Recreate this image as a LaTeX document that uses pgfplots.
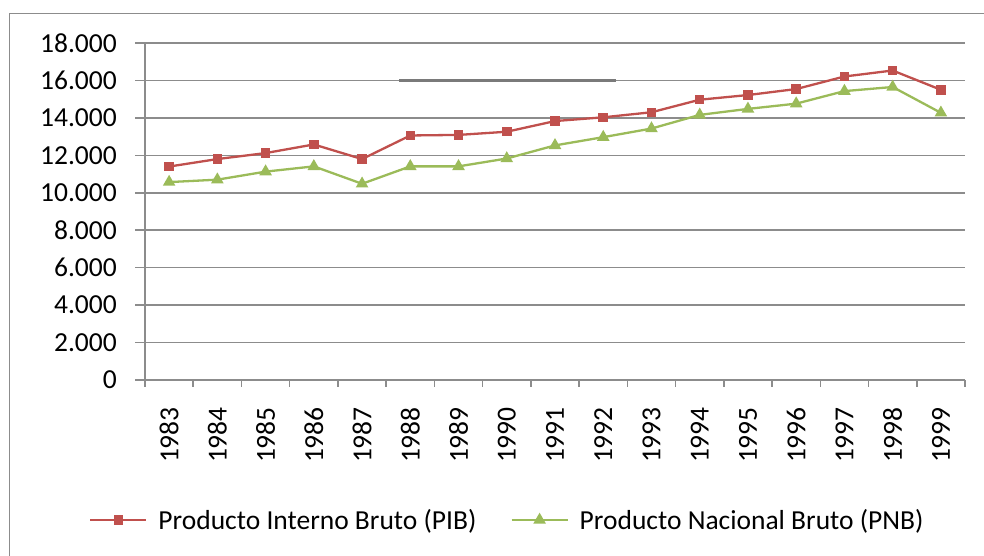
\documentclass[border=0pt]{standalone}
\usepackage{pgfplots}
\pgfplotsset{compat=1.18}
\usepackage{fontspec}
\setmainfont{Carlito}
\definecolor{pib}{HTML}{C0504D}
\definecolor{pnb}{HTML}{9BBB59}
\definecolor{gridc}{HTML}{8C8C8C}
\definecolor{darkseg}{HTML}{7A7A7A}
\begin{document}
\begin{tikzpicture}[x=1bp,y=1bp]
\useasboundingbox (0,0) rectangle (984,556);
\draw[gridc, line width=1.5bp] (9.3,0) -- (9.3,542.7) -- (984,542.7);
\begin{axis}[
  at={(145bp,176bp)}, anchor=south west,
  width=820bp, height=337bp, scale only axis,
  font=\fontsize{27.5bp}{33bp}\selectfont,
  xmin=-0.5, xmax=16.5, ymin=0, ymax=18000,
  scaled y ticks=false,
  axis x line*=bottom, axis y line*=left,
  axis line style={gridc, line width=1.5bp, -},
  ytick={0,2000,...,18000},
  yticklabels={0,2.000,4.000,6.000,8.000,10.000,12.000,14.000,16.000,18.000},
  xtick={0,...,16},
  xticklabels={1983,1984,1985,1986,1987,1988,1989,1990,1991,1992,1993,1994,1995,1996,1997,1998,1999},
  minor xtick={-0.5,0.5,...,16.5},
  tick align=outside,
  major x tick style={draw=none},
  minor tick length=7bp,
  major tick length=10bp,
  every tick/.style={gridc, line width=1.5bp},
  ymajorgrids,
  major grid style={gridc, line width=1.5bp},
  xticklabel style={yshift=-17bp, rotate=90, anchor=east, inner sep=0pt},
  yticklabel style={anchor=east, inner sep=0pt, xshift=-18bp},
  legend columns=2,
  legend style={draw=none, at={(-0.0683,-0.4154)}, anchor=west,
    font=\fontsize{27.5bp}{33bp}\selectfont, inner sep=0pt, nodes={inner sep=0pt},
    /tikz/every odd column/.append style={column sep=11bp},
    /tikz/every even column/.append style={column sep=34bp}},
  legend image code/.code={\draw[mark repeat=2,mark phase=2,#1] plot coordinates {(0bp,0bp) (28bp,0bp) (56bp,0bp)};},
  clip=false,
]
\draw[darkseg, line width=2.2bp] (axis cs:4.77,16000) -- (axis cs:9.26,16000);
\addplot[pib, line width=2.3bp, mark=square*, mark size=3.6bp, mark options={solid}] coordinates {
(0,11400) (1,11800) (2,12120) (3,12580) (4,11800) (5,13060) (6,13090) (7,13260) (8,13830)
(9,14030) (10,14300) (11,14970) (12,15220) (13,15540) (14,16210) (15,16530) (16,15500)};
\addlegendentry{Producto Interno Bruto (PIB)}
\addplot[pnb, line width=2.3bp, mark=triangle*, mark size=5bp, mark options={solid}] coordinates {
(0,10570) (1,10700) (2,11130) (3,11410) (4,10480) (5,11410) (6,11410) (7,11830) (8,12530)
(9,12970) (10,13430) (11,14160) (12,14480) (13,14760) (14,15430) (15,15650) (16,14270)};
\addlegendentry{Producto Nacional Bruto (PNB)}
\end{axis}
\end{tikzpicture}
\end{document}
